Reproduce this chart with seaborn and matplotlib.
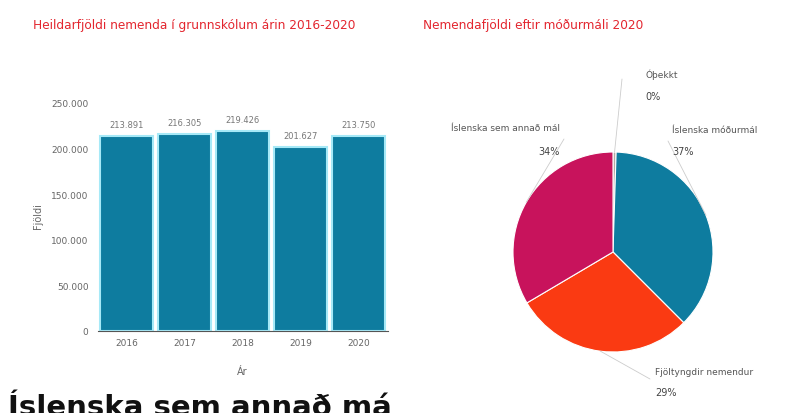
import math
import matplotlib
matplotlib.use("Agg")
import matplotlib.pyplot as plt
import seaborn as sns
import pandas as pd

# ---- data ----
years = ["2016", "2017", "2018", "2019", "2020"]
students = [213891, 216305, 219426, 201627, 213750]
y_ticks = [0, 50000, 100000, 150000, 200000, 250000]

pie_labels = ["Óþekkt", "Íslenska móðurmál", "Fjöltyngdir nemendur", "Íslenska sem annað mál"]
pie_values = [0.5, 37.0, 29.0, 33.5]
pie_colors = ["#b7aaa2", "#0e7c9f", "#fa3a12", "#c8135c"]

title_left = "Heildarfjöldi nemenda í grunnskólum árin 2016-2020"
title_right = "Nemendafjöldi eftir móðurmáli 2020"
heading = "Íslenska sem annað má"

W, H = 802, 414
sns.set_style("white")
plt.rcParams["font.family"] = ["DejaVu Sans"]

fig = plt.figure(figsize=(W / 100, H / 100), dpi=100)


def px_axes(l, t, r, b):
    return fig.add_axes([l / W, (H - b) / H, (r - l) / W, (b - t) / H])


def fmt(v):
    return f"{v:,.0f}".replace(",", ".")


# ---- bar chart ----
ax = px_axes(97.5, 100, 387.5, 332)
df = pd.DataFrame({"Ár": years, "Fjöldi": students})
sns.barplot(data=df, x="Ár", y="Fjöldi", color="#0e7c9f", width=0.9,
            edgecolor="#a6e9f7", linewidth=1.5, saturation=1, ax=ax)
ax.set_ylim(0, 250000 * 232 / 228)
ax.set_yticks(y_ticks)
ax.set_yticklabels([fmt(t) for t in y_ticks])
ax.tick_params(axis="both", labelsize=6.5, labelcolor="#666666", colors="#999999",
               length=3, width=0.6)
ax.tick_params(axis="x", length=0, pad=5)
ax.set_xlabel("Ár", fontsize=7, color="#666666", labelpad=14)
ax.set_ylabel("Fjöldi", fontsize=7, color="#666666", labelpad=6)
for s in ["top", "right", "left"]:
    ax.spines[s].set_visible(False)
ax.spines["bottom"].set_color("#555555")
ax.spines["bottom"].set_linewidth(0.8)
ax.bar_label(ax.containers[0], labels=[fmt(v) for v in students], padding=5,
             fontsize=6, color="#777777")

fig.text(33 / W, (H - 25) / H, title_left, fontsize=8.7, color="#e3262f",
         va="center", ha="left")
fig.text(423 / W, (H - 25) / H, title_right, fontsize=8.7, color="#e3262f",
         va="center", ha="left")

# ---- pie chart ----
cx, cy, R = 613, 253, 100
pax = px_axes(400, 40, 802, 414)
wedges, _ = pax.pie(pie_values, colors=pie_colors, startangle=90, counterclock=False,
                    radius=1, center=(0, 0),
                    wedgeprops=dict(edgecolor="white", linewidth=0.8))
pax.set_xlim((400 - cx) / R, (802 - cx) / R)
pax.set_ylim((cy - 414) / R, (cy - 40) / R)
pax.set_aspect("auto")
pax.axis("off")

total = sum(pie_values)
# text positions (px): name pos, pct pos, alignment, leader end
label_pos = [
    ((645, 75), (645, 97), "left", (622, 80)),
    ((672, 130), (672, 152), "left", (668, 142)),
    ((655, 373), (655, 393), "left", (650, 380)),
    ((560, 128), (560, 152), "right", (564, 140)),
]


def d(p):
    return ((p[0] - cx) / R, (cy - p[1]) / R)


cum = 0
for i, v in enumerate(pie_values):
    mid = cum + v / 2
    cum += v
    ang = math.radians(90 - 360 * mid / total)
    edge = (math.cos(ang), math.sin(ang))
    npos, ppos, ha, lpos = label_pos[i]
    lx, ly = d(lpos)
    pax.plot([edge[0], lx], [edge[1], ly], color="#cccccc", lw=0.6)
    pax.text(*d(npos), pie_labels[i], fontsize=6.5, color="#555555", ha=ha, va="center")
    pax.text(*d(ppos), f"{v:.0f}%", fontsize=7, color="#444444", ha=ha, va="center")

fig.text(8 / W, (H - 416) / H, heading, fontsize=21, fontweight="bold",
         color="#111111", ha="left", va="baseline")

fig.savefig("out.png", dpi=100)
